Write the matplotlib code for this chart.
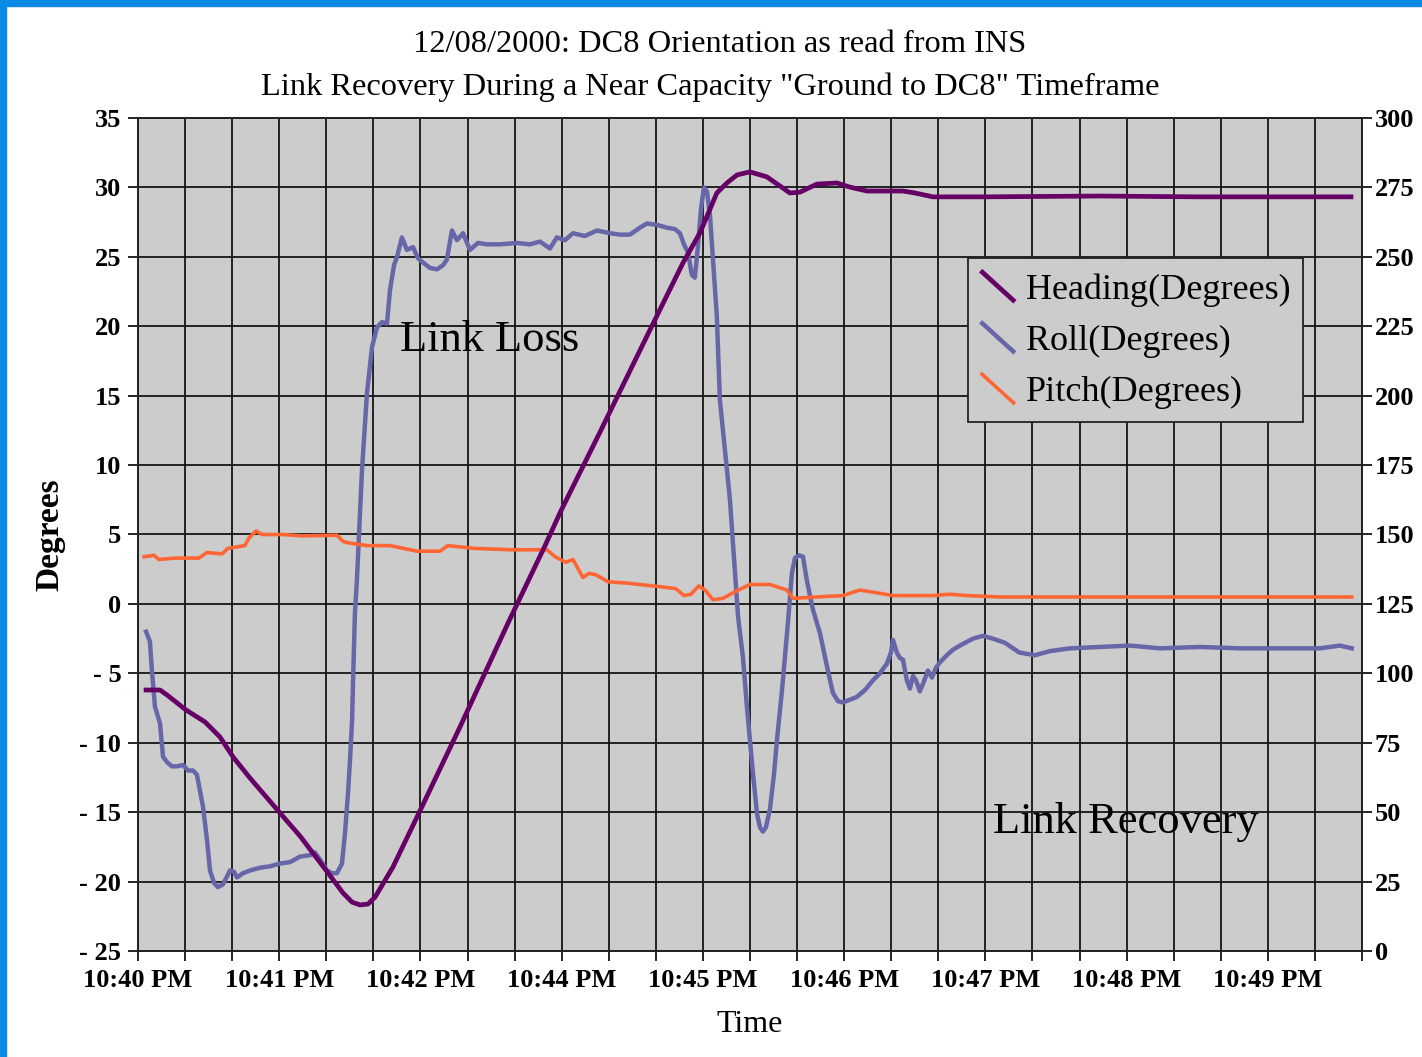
import matplotlib
matplotlib.use("Agg")
import matplotlib.pyplot as plt
from matplotlib.lines import Line2D
from matplotlib.patches import Rectangle
from matplotlib.legend_handler import HandlerBase
from matplotlib.ticker import FixedLocator, MultipleLocator

# ---------------- data (time in seconds after 10:40:00 PM) ----------------
heading_t = [4.0, 10.9, 14.4, 23.8, 33.2, 40.6, 47.1, 55.5, 70.4, 80.3, 94.2, 101.6, 106.1,
             110.0, 114.0, 117.5, 126.4, 140.7, 159.6, 183.4, 201.7, 209.6, 229.0, 253.7,
             270.1, 278.5, 286.9, 291.9, 296.9, 303.3, 311.7, 318.2, 323.1, 328.1, 336.5,
             346.4, 352.9, 361.3, 372.7, 379.1, 385.1, 394.0, 418.8, 476.7, 526.3, 601.2]
heading_deg = [94.0, 94.0, 92.2, 86.8, 82.5, 77.1, 69.9, 62.3, 49.7, 41.4, 28.1, 20.9, 17.6,
               16.6, 16.9, 19.4, 30.3, 51.9, 80.7, 118.1, 145.9, 158.5, 186.9, 223.6,
               247.8, 258.6, 273.0, 276.6, 279.5, 280.6, 278.8, 275.5, 273.0, 273.3, 276.2,
               276.6, 275.1, 273.7, 273.7, 273.7, 273.0, 271.6, 271.6, 271.9, 271.6, 271.6]

roll_t = [4.0, 5.9, 6.9, 8.4, 10.9, 12.4, 14.4, 16.8, 19.3, 22.3, 24.8, 27.3, 29.2, 32.2,
          34.2, 35.7, 37.7, 39.6, 42.1, 45.6, 47.6, 49.1, 52.0, 55.5, 60.5, 65.4, 70.4, 75.3,
          80.3, 85.2, 87.7, 90.2, 93.7, 96.1, 98.6, 101.1, 102.6, 104.1, 105.1, 106.1, 106.6,
          107.5, 108.5, 111.0, 113.5, 116.0, 118.4, 120.9, 123.4, 124.9, 126.9, 128.4, 130.8,
          133.3, 136.3, 138.8, 141.2, 144.7, 148.2, 151.2, 153.1, 155.6, 158.1, 161.1, 164.5,
          168.5, 173.0, 179.4, 187.8, 194.3, 199.2, 204.2, 207.6, 211.6, 215.6, 221.5, 227.5,
          233.9, 238.9, 243.8, 248.8, 252.2, 257.2, 262.2, 266.1, 268.6, 270.6, 272.6, 274.5,
          276.0, 277.5, 279.0, 280.5, 282.0, 283.5, 285.0, 286.9, 288.4, 293.4, 297.4, 299.8,
          301.8, 303.3, 304.8, 306.8, 308.3, 309.7, 311.2, 313.2, 315.2, 316.7, 319.2, 322.1,
          324.1, 325.6, 327.6, 329.6, 331.5, 334.5, 338.0, 341.5, 344.4, 346.9, 349.4, 352.9,
          356.3, 360.3, 364.3, 367.7, 371.2, 373.2, 374.2, 376.1, 377.6, 379.1, 381.1, 382.6,
          384.1, 385.6, 387.5, 389.5, 391.5, 393.5, 395.5, 397.5, 400.9, 403.9, 407.4, 413.8,
          418.8, 423.7, 429.7, 436.8, 444.5, 452.0, 461.9, 476.7, 491.6, 506.5, 526.3, 546.1,
          566.0, 585.8, 595.7, 601.6]
roll_deg = [-2.0, -2.7, -4.8, -7.4, -8.6, -11.0, -11.4, -11.7, -11.7, -11.6, -12.0, -12.0,
            -12.3, -14.6, -17.0, -19.2, -20.1, -20.4, -20.2, -19.2, -19.3, -19.7, -19.4, -19.2,
            -19.0, -18.9, -18.7, -18.6, -18.2, -18.1, -17.9, -18.4, -19.2, -19.4, -19.4, -18.7,
            -16.5, -13.6, -11.2, -8.4, -5.5, -0.7, 1.7, 9.6, 15.2, 18.5, 19.9, 20.3, 20.2, 22.6,
            24.4, 25.0, 26.4, 25.5, 25.7, 24.9, 24.6, 24.2, 24.1, 24.4, 24.8, 26.9, 26.2, 26.7,
            25.5, 26.0, 25.9, 25.9, 26.0, 25.9, 26.1, 25.6, 26.4, 26.2, 26.7, 26.5, 26.9, 26.7,
            26.6, 26.6, 27.1, 27.4, 27.3, 27.1, 27.0, 26.7, 25.9, 25.3, 23.7, 23.5, 25.7, 28.4,
            30.0, 29.7, 28.0, 24.8, 20.7, 14.7, 7.5, -0.9, -3.8, -7.4, -9.8, -12.2, -15.1, -16.1,
            -16.4, -16.1, -14.8, -12.3, -9.8, -6.2, -1.4, 2.2, 3.3, 3.5, 3.4, 1.7, -0.4, -2.1,
            -4.5, -6.4, -7.0, -7.1, -6.9, -6.7, -6.2, -5.5, -5.0, -4.3, -3.5, -2.6, -3.5, -3.9,
            -4.0, -5.5, -6.1, -5.2, -5.5, -6.3, -5.6, -4.8, -5.3, -4.6, -4.2, -3.7, -3.3, -3.0,
            -2.5, -2.3, -2.5, -2.8, -3.5, -3.7, -3.4, -3.2, -3.1, -3.0, -3.2, -3.1, -3.2, -3.2,
            -3.2, -3.0, -3.2]

pitch_t = [3.0, 7.9, 10.4, 18.3, 30.2, 34.2, 41.6, 44.6, 53.0, 55.0, 58.5, 61.5, 71.9, 81.3,
           98.6, 101.6, 104.1, 113.5, 124.9, 138.3, 149.7, 153.6, 166.5, 185.3, 202.7, 206.7,
           212.1, 215.6, 220.5, 223.5, 227.0, 232.9, 242.3, 261.2, 266.6, 270.6, 274.1, 278.0,
           281.0, 285.0, 289.9, 294.9, 303.3, 313.2, 321.6, 324.6, 336.5, 349.4, 357.8, 366.2,
           374.2, 394.0, 402.4, 410.8, 427.2, 476.7, 526.3, 601.6]
pitch_deg = [3.4, 3.5, 3.2, 3.3, 3.3, 3.7, 3.6, 4.0, 4.2, 4.75, 5.25, 5.0, 5.0, 4.9, 4.95, 4.5,
             4.4, 4.2, 4.2, 3.8, 3.8, 4.2, 4.0, 3.9, 3.9, 3.4, 3.0, 3.2, 1.9, 2.2, 2.1, 1.6, 1.5,
             1.2, 1.1, 0.6, 0.7, 1.3, 1.0, 0.3, 0.4, 0.8, 1.4, 1.4, 1.0, 0.4, 0.5, 0.6, 1.0, 0.8,
             0.6, 0.6, 0.7, 0.6, 0.5, 0.5, 0.5, 0.5]

x_tick_pos = [0, 70, 140, 210, 280, 350, 420, 490, 560]
x_tick_labels = ["10:40 PM", "10:41 PM", "10:42 PM", "10:44 PM", "10:45 PM",
                 "10:46 PM", "10:47 PM", "10:48 PM", "10:49 PM"]
left_ticks = [-25, -20, -15, -10, -5, 0, 5, 10, 15, 20, 25, 30, 35]
left_labels = ["- 25", "- 20", "- 15", "- 10", "- 5", "0", "5", "10", "15", "20", "25", "30", "35"]
right_ticks = [0, 25, 50, 75, 100, 125, 150, 175, 200, 225, 250, 275, 300]

title_lines = ["12/08/2000: DC8 Orientation as read from INS",
               "Link Recovery During a Near Capacity \"Ground to DC8\" Timeframe"]

# ---------------- style ----------------
SERIF = ["Liberation Serif", "DejaVu Serif"]
C_HEAD = "#660066"
C_ROLL = "#6666a8"
C_PITCH = "#ff6633"
BG = "#cccccc"
TICK_FS = 19

W, H = 1422, 1057
fig = plt.figure(figsize=(W / 100, H / 100), dpi=100)
fig.patch.set_facecolor("white")

L, R, T, B = 138, 1362, 118, 951
ax = fig.add_axes([L / W, 1 - B / H, (R - L) / W, (B - T) / H])
ax.set_facecolor(BG)
ax2 = ax.twinx()
ax2.patch.set_visible(False)

x_max = 26 * 70 / 3
ax.set_xlim(0, x_max)
ax.set_ylim(-25, 35)
ax2.set_ylim(0, 300)

# grid
ax.xaxis.set_major_locator(FixedLocator(x_tick_pos))
ax.xaxis.set_minor_locator(MultipleLocator(70 / 3))
ax.set_xticklabels(x_tick_labels, fontfamily=SERIF, fontweight="bold", fontsize=TICK_FS)
ax.set_yticks(left_ticks)
ax.set_yticklabels(left_labels, fontfamily=SERIF, fontweight="bold", fontsize=TICK_FS)
ax2.set_yticks(right_ticks)
ax2.set_yticklabels([str(v) for v in right_ticks], fontfamily=SERIF, fontweight="bold", fontsize=TICK_FS)

ax.grid(True, which="both", axis="x", color="#151515", lw=1.3)
ax.grid(True, which="major", axis="y", color="#151515", lw=1.3)
ax.set_axisbelow(True)

ax.tick_params(axis="x", which="both", direction="out", length=7, width=1.2, pad=6, colors="black")
ax.tick_params(axis="y", which="major", direction="out", length=7, width=1.2, pad=5)
ax2.tick_params(axis="y", direction="out", length=7, width=1.2, pad=2)
for a in (ax, ax2):
    for s in a.spines.values():
        s.set_color("#222222")
        s.set_linewidth(1.3)

# lines
l_roll, = ax.plot(roll_t, roll_deg, color=C_ROLL, lw=3.2, solid_joinstyle="round",
                  label="Roll(Degrees)", zorder=3)
l_pitch, = ax.plot(pitch_t, pitch_deg, color=C_PITCH, lw=2.6, solid_joinstyle="round",
                   label="Pitch(Degrees)", zorder=3)
l_head, = ax2.plot(heading_t, heading_deg, color=C_HEAD, lw=3.4, solid_joinstyle="round",
                   label="Heading(Degrees)", zorder=3)

# annotations
ax.text(130, 19.0, "Link Loss", fontfamily=SERIF, fontsize=32, va="center", ha="left", zorder=4)
ax.text(424, -15.7, "Link Recovery", fontfamily=SERIF, fontsize=32, va="center", ha="left", zorder=4)

# axis labels
ax.set_xlabel("Time", fontfamily=SERIF, fontsize=23, labelpad=13)
ax.set_ylabel("Degrees", fontfamily=SERIF, fontsize=24, fontweight="bold", labelpad=10)

# title
fig.text(720 / W, 1 - 45 / H, title_lines[0], fontfamily=SERIF, fontsize=23.4, ha="center", va="center")
fig.text(710 / W, 1 - 87 / H, title_lines[1], fontfamily=SERIF, fontsize=23.4, ha="center", va="center")


class DiagHandler(HandlerBase):
    def create_artists(self, legend, orig_handle, xdescent, ydescent, width, height, fontsize, trans):
        ln = Line2D([-xdescent, -xdescent + width], [-ydescent + height, -ydescent],
                    color=orig_handle.get_color(), lw=orig_handle.get_linewidth(),
                    solid_capstyle="butt", transform=trans)
        return [ln]


leg = ax2.legend(handles=[l_head, l_roll, l_pitch], loc="upper left",
                 bbox_to_anchor=((968 - L) / (R - L), (B - 258) / (B - T)),
                 borderaxespad=0, frameon=True, fancybox=False, framealpha=1,
                 facecolor=BG, edgecolor="#222222",
                 prop={"family": SERIF, "size": 26},
                 handler_map={Line2D: DiagHandler()},
                 handlelength=0.95, handleheight=0.95, handletextpad=0.3,
                 labelspacing=0.42, borderpad=0.35)
leg.get_frame().set_linewidth(1.3)
leg.set_zorder(10)

# blue frame on left/top edges
fig.add_artist(Rectangle((0, 0), 6 / W, 1, transform=fig.transFigure, color="#0a8be6", zorder=20))
fig.add_artist(Rectangle((0, 1 - 6 / H), 1, 6 / H, transform=fig.transFigure, color="#0a8be6", zorder=20))

fig.savefig("out.png", dpi=100, facecolor="white")
